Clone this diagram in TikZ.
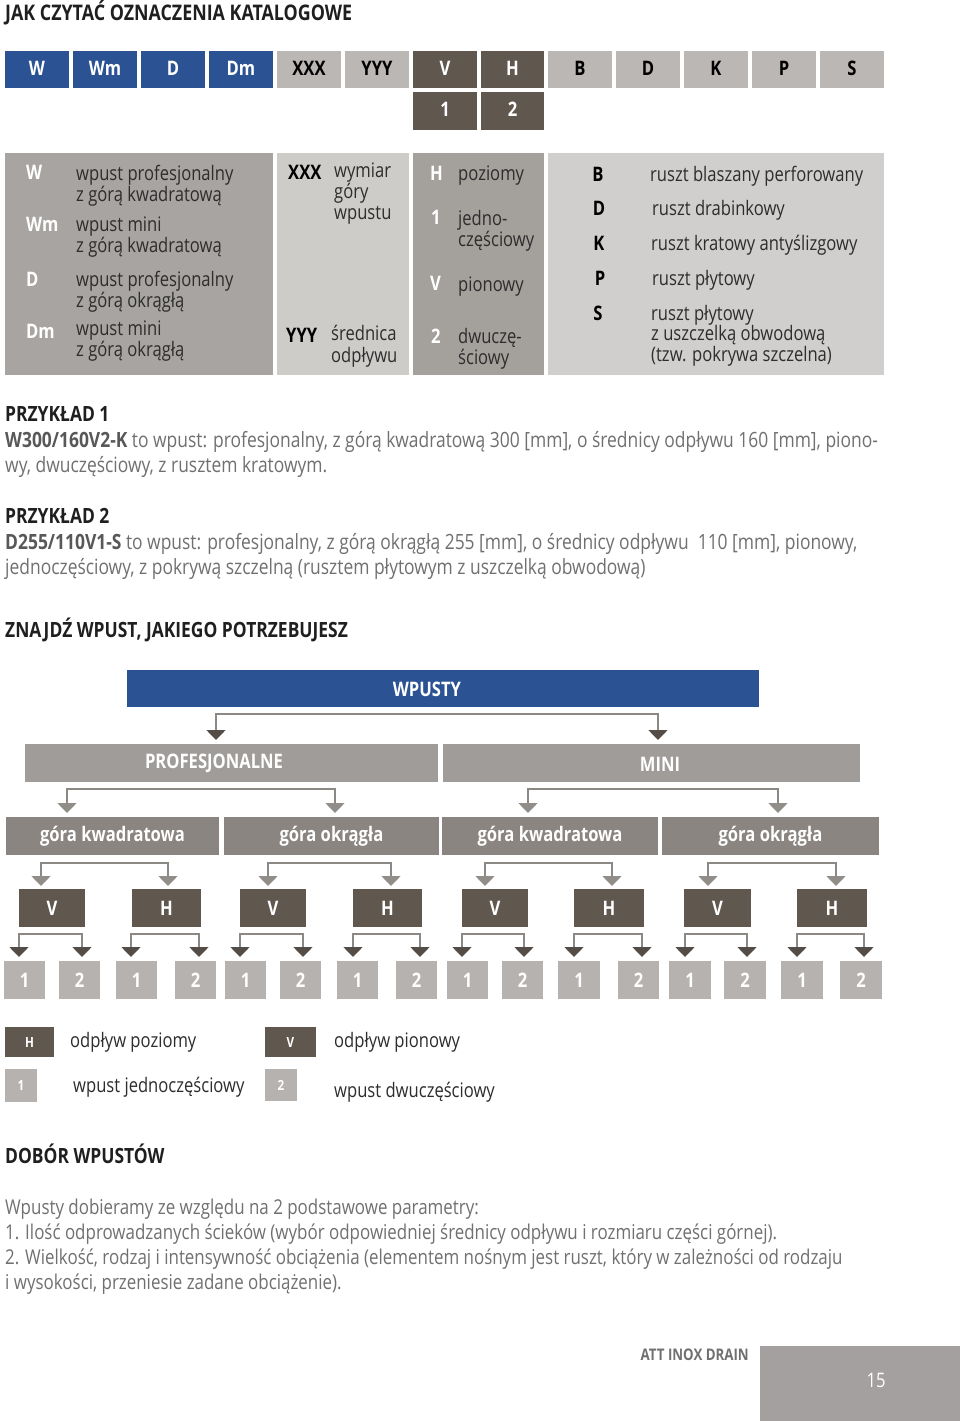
\documentclass[tikz,border=0pt]{standalone}
\usepackage{fontspec}
\setmainfont[FakeStretch=0.83]{Open Sans}
\usetikzlibrary{arrows.meta}
\definecolor{cblue}{RGB}{43,82,147}
\definecolor{cbrown}{RGB}{96,87,79}
\definecolor{chdr}{RGB}{186,183,180}
\definecolor{cpa}{RGB}{168,164,161}
\definecolor{cpb}{RGB}{206,204,201}
\definecolor{cpc}{RGB}{164,160,156}
\definecolor{cpd}{RGB}{209,207,205}
\definecolor{cprof}{RGB}{160,156,153}
\definecolor{cgora}{RGB}{138,133,128}
\definecolor{cnum}{RGB}{181,178,175}
\definecolor{cline}{RGB}{140,136,132}
\definecolor{carrd}{RGB}{84,76,70}
\definecolor{carrg}{RGB}{145,141,137}
\definecolor{ctext}{RGB}{45,45,45}
\definecolor{cgrey}{RGB}{112,112,112}
\definecolor{cgreyb}{RGB}{88,88,88}
\definecolor{cfoot}{RGB}{165,160,160}
\newcommand\fsz[1]{\fontsize{#1}{#1}\selectfont}
\newcommand\mybox[7]{\node[#6,minimum width={(#4)-(#2)},minimum height={(#5)-(#3)}] (#1) at ({((#2)+(#4))/2},{((#3)+(#5))/2}) {#7};}
\begin{document}
\begin{tikzpicture}[x=1pt,y=-1pt,
  bx/.style={inner sep=0pt,outer sep=0pt,draw=none},
  hb/.style={bx,fill=cblue,text=white,font=\fsz{20}\bfseries,text depth=0pt,text height=11pt},
  hg/.style={bx,fill=chdr,text=black,font=\fsz{20}\bfseries,text depth=0pt,text height=11pt},
  hr/.style={bx,fill=cbrown,text=white,font=\fsz{20}\bfseries,text depth=0pt,text height=11pt},
  txt/.style={inner sep=0pt,anchor=mid west,yshift=-5pt,font=\fsz{20},text=ctext},
  keyw/.style={inner sep=0pt,anchor=mid west,yshift=-5pt,font=\fsz{20}\bfseries,text=white},
  keyb/.style={inner sep=0pt,anchor=mid west,yshift=-5pt,font=\fsz{20}\bfseries,text=black},
  head/.style={inner sep=0pt,anchor=mid west,yshift=-5pt,font=\fsz{21}\bfseries,text=black!88},
  body/.style={inner sep=0pt,anchor=mid west,yshift=-5pt,font=\fsz{21},text=cgrey},
  lbl/.style={inner sep=0pt,text=white,font=\fsz{20}\bfseries},
  tprof/.style={bx,fill=cprof},
  tblue/.style={bx,fill=cblue},
  tgora/.style={bx,fill=cgora,text=white,font=\fsz{20}\bfseries},
  tvh/.style={bx,fill=cbrown,text=white,font=\fsz{20}\bfseries},
  tnum/.style={bx,fill=cnum,text=white,font=\fsz{20}\bfseries},
  conn/.style={draw=cline,line width=1.6pt},
  ad/.style={conn,{Triangle[width=19pt,length=10pt,color=carrd]}-{Triangle[width=19pt,length=10pt,color=carrd]}},
  ag/.style={conn,{Triangle[width=19pt,length=10pt,color=carrg]}-{Triangle[width=19pt,length=10pt,color=carrg]}}
]
\useasboundingbox (0,0) rectangle (960,1421);
\fill[white] (0,0) rectangle (960,1421);

% title
\node[head,font=\fsz{21.5}\bfseries] (title) at (5,13) {JAK CZYTAĆ OZNACZENIA KATALOGOWE};

% header row
\mybox{hW}{5}{51}{69}{88}{hb}{W}
\mybox{hWm}{73}{51}{137}{88}{hb}{Wm}
\mybox{hD}{141}{51}{205}{88}{hb}{D}
\mybox{hDm}{209}{51}{273}{88}{hb}{Dm}
\mybox{hX}{277}{51}{341}{88}{hg}{XXX}
\mybox{hY}{345}{51}{409}{88}{hg}{YYY}
\mybox{hV}{413}{51}{477}{88}{hr}{V}
\mybox{hH}{481}{51}{544}{88}{hr}{H}
\mybox{hB}{548}{51}{612}{88}{hg}{B}
\mybox{hD2}{616}{51}{680}{88}{hg}{D}
\mybox{hK}{684}{51}{748}{88}{hg}{K}
\mybox{hP}{752}{51}{816}{88}{hg}{P}
\mybox{hS}{820}{51}{884}{88}{hg}{S}
\mybox{h1}{413}{92}{477}{130}{hr}{1}
\mybox{h2}{481}{92}{544}{130}{hr}{2}

% table panels
\mybox{pA}{5}{153}{273}{375}{bx,fill=cpa}{}
\mybox{pB}{277}{153}{409}{375}{bx,fill=cpb}{}
\mybox{pC}{413}{153}{544}{375}{bx,fill=cpc}{}
\mybox{pD}{548}{153}{884}{375}{bx,fill=cpd}{}

\node[keyw] (kW) at (26,172) {W};
\node[keyw] (kWm) at (26,224) {Wm};
\node[keyw] (kD) at (26,279) {D};
\node[keyw] (kDm) at (26,331) {Dm};
\node[txt] (a1) at (76,173) {wpust profesjonalny};
\node[txt] (a2) at (76,194) {z górą kwadratową};
\node[txt] (a3) at (76,224) {wpust mini};
\node[txt] (a4) at (76,245) {z górą kwadratową};
\node[txt] (a5) at (76,279) {wpust profesjonalny};
\node[txt] (a6) at (76,300) {z górą okrągłą};
\node[txt] (a7) at (76,328) {wpust mini};
\node[txt] (a8) at (76,349) {z górą okrągłą};

\node[keyb] (kX) at (288,172) {XXX};
\node[txt] (b1) at (334,170) {wymiar};
\node[txt] (b2) at (334,191) {góry};
\node[txt] (b3) at (334,212) {wpustu};
\node[keyb] (kY) at (286,335) {YYY};
\node[txt] (b4) at (331,333) {średnica};
\node[txt] (b5) at (331,355) {odpływu};

\node[keyw] (kH) at (430,173) {H};
\node[txt] (c1) at (458,173) {poziomy};
\node[keyw] (k1) at (431,217) {1};
\node[txt] (c2) at (458,218) {jedno-};
\node[txt] (c3) at (458,239) {częściowy};
\node[keyw] (kV) at (430,283) {V};
\node[txt] (c4) at (458,284) {pionowy};
\node[keyw] (k2) at (431,336) {2};
\node[txt] (c5) at (458,336) {dwuczę-};
\node[txt] (c6) at (458,357) {ściowy};

\node[keyb,anchor=mid] (kB) at (598,174) {B};
\node[keyb,anchor=mid] (kD3) at (599,208) {D};
\node[keyb,anchor=mid] (kK) at (599,243) {K};
\node[keyb,anchor=mid] (kP) at (600,278) {P};
\node[keyb,anchor=mid] (kS) at (598,313) {S};
\node[txt] (d1) at (650,174) {ruszt blaszany perforowany};
\node[txt] (d2) at (652,208) {ruszt drabinkowy};
\node[txt] (d3) at (651,243) {ruszt kratowy antyślizgowy};
\node[txt] (d4) at (652,278) {ruszt płytowy};
\node[txt] (d5) at (651,313) {ruszt płytowy};
\node[txt] (d6) at (651,333) {z uszczelką obwodową};
\node[txt] (d7) at (651,354) {(tzw. pokrywa szczelna)};

% examples
\node[head] (ex1) at (5,414) {PRZYKŁAD 1};
\node[body] (ex1a) at (5,440) {\textcolor{cgreyb}{\bfseries W300/160V2-K} to wpust: profesjonalny, z górą kwadratową 300 [mm], o średnicy odpływu 160 [mm], piono-};
\node[body] (ex1b) at (5,465) {wy, dwuczęściowy, z rusztem kratowym.};
\node[head] (ex2) at (5,516) {PRZYKŁAD 2};
\node[body] (ex2a) at (5,542) {\textcolor{cgreyb}{\bfseries D255/110V1-S} to wpust: profesjonalny, z górą okrągłą 255 [mm], o średnicy odpływu\ \ 110 [mm], pionowy,};
\node[body] (ex2b) at (5,567) {jednoczęściowy, z pokrywą szczelną (rusztem płytowym z uszczelką obwodową)};

\node[head] (find) at (5,630) {ZNAJDŹ WPUST, JAKIEGO POTRZEBUJESZ};

% tree
\mybox{wp}{127}{670}{759}{707}{tblue}{}
\node[lbl] (wpL) at (427,689) {WPUSTY};
\mybox{prof}{25}{744}{438}{782}{tprof}{}
\node[lbl] (profL) at (214,763) {PROFESJONALNE};
\mybox{mini}{443}{744}{860}{782}{tprof}{}
\node[lbl] (miniL) at (660,764) {MINI};
\mybox{g1}{6}{817}{219}{855}{tgora}{góra kwadratowa}
\mybox{g2}{224}{817}{439}{855}{tgora}{góra okrągła}
\mybox{g3}{442}{817}{658}{855}{tgora}{góra kwadratowa}
\mybox{g4}{662}{817}{879}{855}{tgora}{góra okrągła}

\mybox{v1}{19}{889}{85}{927}{tvh}{V}
\mybox{h1t}{132}{889}{201}{927}{tvh}{H}
\mybox{v2}{240}{889}{306}{927}{tvh}{V}
\mybox{h2t}{353}{889}{422}{927}{tvh}{H}
\mybox{v3}{462}{889}{528}{927}{tvh}{V}
\mybox{h3t}{574}{889}{644}{927}{tvh}{H}
\mybox{v4}{684}{889}{751}{927}{tvh}{V}
\mybox{h4t}{797}{889}{867}{927}{tvh}{H}

\mybox{n1}{4}{961}{45}{999}{tnum}{1}
\mybox{n2}{59}{961}{100}{999}{tnum}{2}
\mybox{n3}{116}{961}{157}{999}{tnum}{1}
\mybox{n4}{175}{961}{216}{999}{tnum}{2}
\mybox{n5}{225}{961}{266}{999}{tnum}{1}
\mybox{n6}{280}{961}{321}{999}{tnum}{2}
\mybox{n7}{337}{961}{378}{999}{tnum}{1}
\mybox{n8}{396}{961}{437}{999}{tnum}{2}
\mybox{n9}{447}{961}{488}{999}{tnum}{1}
\mybox{n10}{502}{961}{543}{999}{tnum}{2}
\mybox{n11}{558}{961}{600}{999}{tnum}{1}
\mybox{n12}{618}{961}{659}{999}{tnum}{2}
\mybox{n13}{669}{961}{711}{999}{tnum}{1}
\mybox{n14}{724}{961}{766}{999}{tnum}{2}
\mybox{n15}{781}{961}{823}{999}{tnum}{1}
\mybox{n16}{840}{961}{882}{999}{tnum}{2}

% level 1
\coordinate (tP) at (216,740);
\coordinate (tM) at (658,740);
\draw[ad] (tP) -- ++(0,-26) -| (tM);
% level 2
\coordinate (t1) at (67,813);
\coordinate (t2) at (335,813);
\coordinate (t3) at (528,813);
\coordinate (t4) at (778,813);
\draw[ag] (t1) -- ++(0,-24) -| (t2);
\draw[ag] (t3) -- ++(0,-24) -| (t4);
% level 3
\foreach \a/\b [count=\i] in {41/168,268/391,485/612,708/836}{
  \coordinate (u\i a) at (\a,886);
  \coordinate (u\i b) at (\b,886);
  \draw[ag] (u\i a) -- ++(0,-23) -| (u\i b);
}
% level 4
\foreach \a/\b [count=\i] in {19/82,131/199,240/303,353/420,462/524,574/642,685/747,797/864}{
  \coordinate (w\i a) at (\a,957);
  \coordinate (w\i b) at (\b,957);
  \draw[ad] (w\i a) -- ++(0,-23) -| (w\i b);
}

% legend
\mybox{lH}{5}{1027}{54}{1057}{bx,fill=cbrown,text=white,font=\fsz{14}\bfseries}{H}
\node[txt] (lHt) at (70,1040) {odpływ poziomy};
\mybox{lV}{265}{1027}{316}{1057}{bx,fill=cbrown,text=white,font=\fsz{14}\bfseries}{V}
\node[txt] (lVt) at (334,1040) {odpływ pionowy};
\mybox{l1}{5}{1069}{37}{1102}{bx,fill=cnum,text=white,font=\fsz{14}\bfseries}{1}
\node[txt] (l1t) at (73,1085) {wpust jednoczęściowy};
\mybox{l2}{265}{1069}{297}{1101}{bx,fill=cnum,text=white,font=\fsz{14}\bfseries}{2}
\node[txt] (l2t) at (334,1090) {wpust dwuczęściowy};

% dobór
\node[head] (dob) at (5,1156) {DOBÓR WPUSTÓW};
\node[body,font=\fsz{20.4}] (p1) at (5,1207) {Wpusty dobieramy ze względu na 2 podstawowe parametry:};
\node[body,font=\fsz{20.4}] (p2) at (5,1232) {1. Ilość odprowadzanych ścieków (wybór odpowiedniej średnicy odpływu i rozmiaru części górnej).};
\node[body,font=\fsz{20.4}] (p3) at (5,1257) {2. Wielkość, rodzaj i intensywność obciążenia (elementem nośnym jest ruszt, który w zależności od rodzaju};
\node[body,font=\fsz{20.4}] (p4) at (5,1282) {i wysokości, przeniesie zadane obciążenie).};

% footer
\node[inner sep=0pt,anchor=mid east,yshift=-5pt,font=\fsz{16}\bfseries,text=cgrey] (att) at (749,1353) {ATT INOX DRAIN};
\mybox{fbox}{760}{1346}{960}{1421}{bx,fill=cfoot}{}
\node[inner sep=0pt,font=\fsz{20},text=white] (pg) at (876,1380) {15};
\end{tikzpicture}
\end{document}
